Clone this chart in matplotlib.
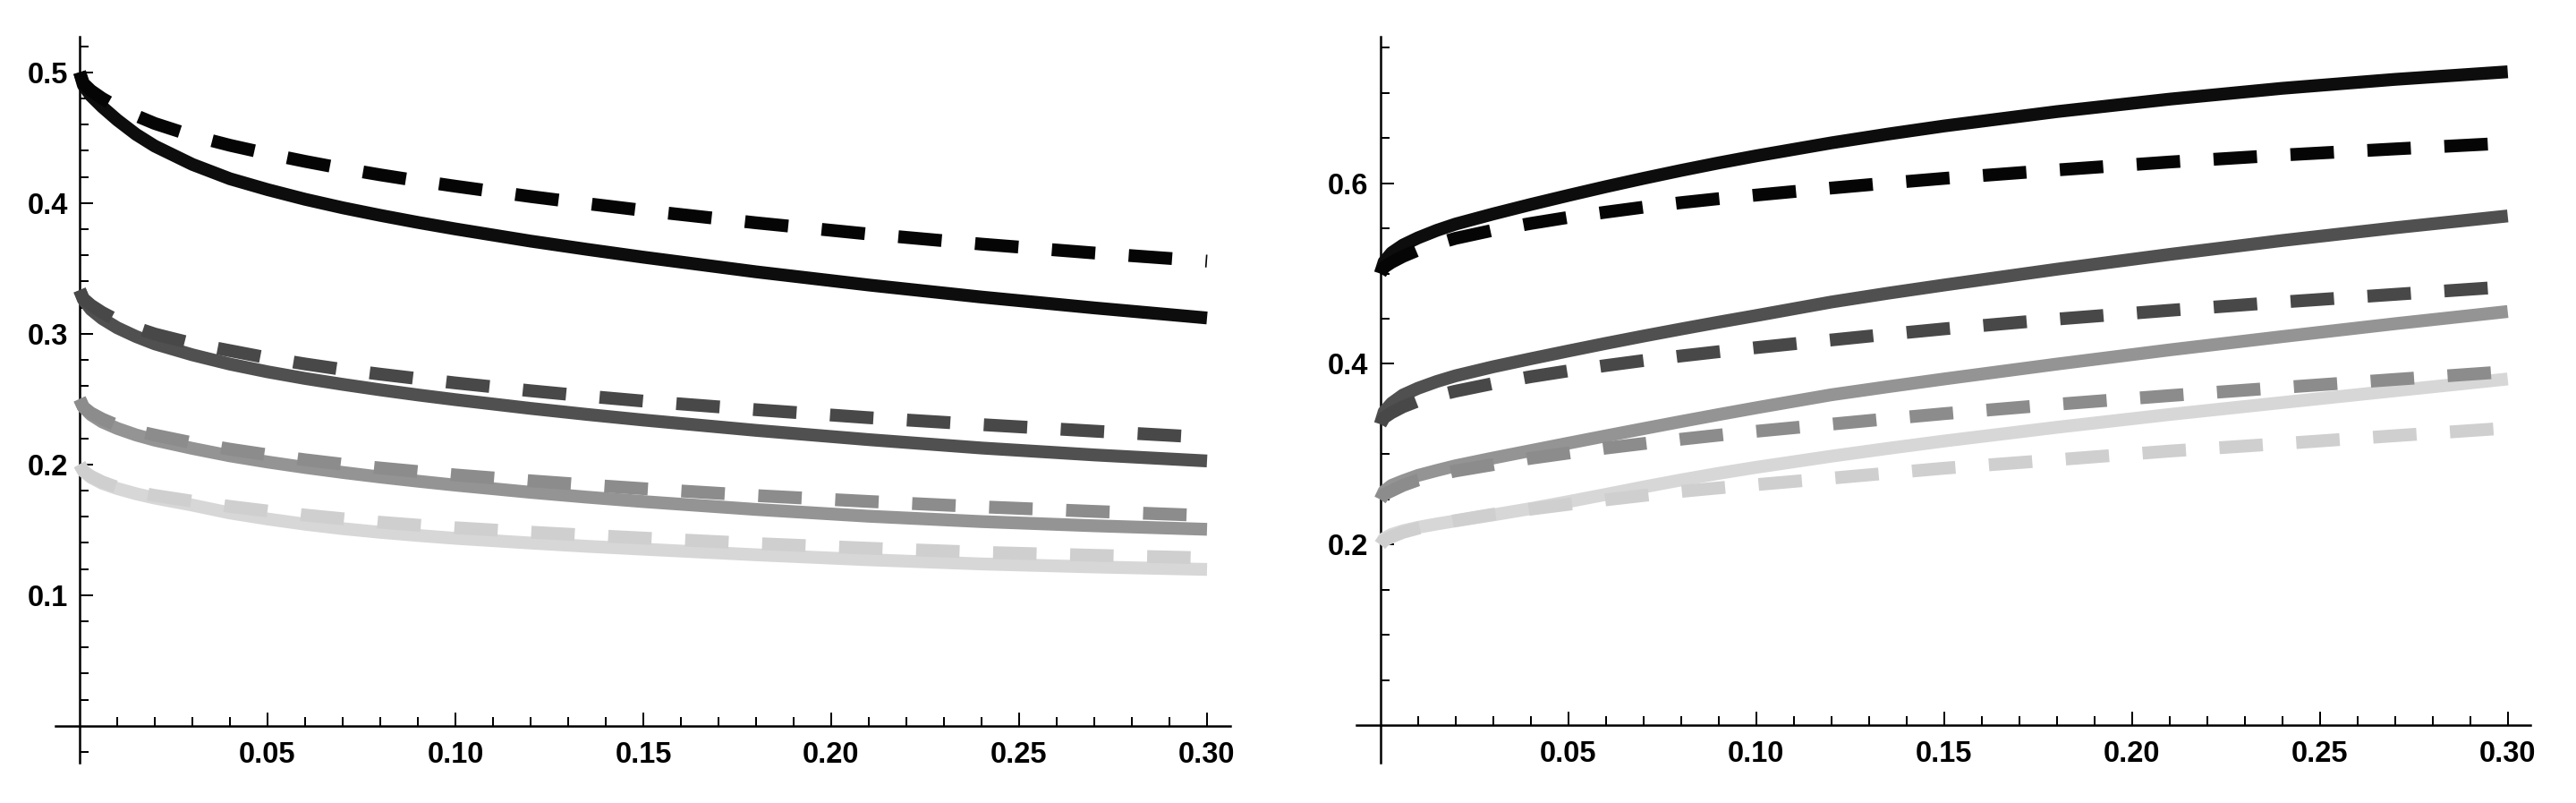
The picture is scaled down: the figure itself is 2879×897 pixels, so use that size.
import matplotlib
matplotlib.use("Agg")
import matplotlib.pyplot as plt
from matplotlib.ticker import FixedLocator, FixedFormatter

# ---------------- data ----------------
x_grid = [0, 0.001, 0.003, 0.006, 0.01, 0.015, 0.02, 0.03, 0.04, 0.05, 0.06, 0.07,
          0.08, 0.09, 0.10, 0.12, 0.135, 0.15, 0.18, 0.21, 0.24, 0.27, 0.30]

# left panel, solid curves
left_solid_1 = [0.500, 0.490, 0.482, 0.4735, 0.4635, 0.4525, 0.4435, 0.4295, 0.4185, 0.4102,
                0.4028, 0.3963, 0.3905, 0.3851, 0.3801, 0.3708, 0.3645, 0.3585, 0.3473,
                0.3372, 0.328, 0.3197, 0.312]
left_solid_2 = [0.3333, 0.326, 0.3185, 0.3115, 0.3045, 0.2978, 0.2922, 0.2838, 0.2767, 0.2708,
                0.2657, 0.2612, 0.257, 0.2531, 0.2495, 0.2428, 0.2382, 0.2339, 0.226,
                0.2189, 0.2125, 0.2072, 0.2026]
left_solid_3 = [0.250, 0.2438, 0.238, 0.2325, 0.2275, 0.2225, 0.2185, 0.2122, 0.2065, 0.2018,
                0.1976, 0.1938, 0.1903, 0.1871, 0.1841, 0.1786, 0.1749, 0.1715, 0.1655,
                0.1603, 0.1562, 0.153, 0.1503]
left_solid_4 = [0.200, 0.1948, 0.190, 0.1855, 0.1815, 0.1775, 0.1742, 0.1688, 0.1628, 0.1582,
                0.1542, 0.1508, 0.1480, 0.1456, 0.1434, 0.1398, 0.1373, 0.1351, 0.1308,
                0.127, 0.1238, 0.1215, 0.1196]
# left panel, dashed curves
left_dash_1 = [0.500, 0.4915, 0.486, 0.480, 0.4735, 0.4668, 0.4608, 0.4515, 0.4441, 0.4377,
               0.4318, 0.4264, 0.4215, 0.417, 0.4128, 0.4049, 0.3995, 0.3943, 0.3848,
               0.3762, 0.3685, 0.3617, 0.3555]
left_dash_2 = [0.3333, 0.3268, 0.3218, 0.3162, 0.3102, 0.3045, 0.2997, 0.2925, 0.287, 0.2815,
               0.2768, 0.2726, 0.269, 0.2656, 0.2623, 0.2563, 0.2522, 0.2484, 0.2418,
               0.2357, 0.2304, 0.2254, 0.2206]
left_dash_3 = [0.250, 0.2438, 0.2393, 0.2347, 0.2298, 0.2256, 0.2224, 0.2165, 0.2116, 0.2073,
               0.2035, 0.2001, 0.1972, 0.1945, 0.1919, 0.1874, 0.1843, 0.1814, 0.1761,
               0.1716, 0.1675, 0.164, 0.1608]
left_dash_4 = [0.200, 0.1949, 0.1909, 0.1866, 0.1824, 0.1789, 0.1762, 0.1718, 0.1678, 0.1643,
               0.1612, 0.1584, 0.1557, 0.1535, 0.1515, 0.1481, 0.1458, 0.1436, 0.1394,
               0.1358, 0.1327, 0.1304, 0.1284]

# right panel, solid curves
right_solid_1 = [0.500, 0.513, 0.523, 0.5315, 0.5395, 0.5478, 0.5548, 0.566, 0.5765, 0.5865,
                 0.5962, 0.6054, 0.6142, 0.6225, 0.6303, 0.6447, 0.6544, 0.6634, 0.6793,
                 0.6931, 0.7051, 0.715, 0.7234]
right_solid_2 = [0.3333, 0.347, 0.3565, 0.3655, 0.373, 0.3805, 0.3868, 0.3968, 0.4057, 0.4143,
                 0.4227, 0.4308, 0.4386, 0.4462, 0.4535, 0.4685, 0.4782, 0.4873, 0.5048,
                 0.5212, 0.5366, 0.5507, 0.5638]
right_solid_3 = [0.250, 0.259, 0.2655, 0.2705, 0.2765, 0.282, 0.2872, 0.2958, 0.304, 0.3122,
                 0.3203, 0.3283, 0.3362, 0.3439, 0.3514, 0.3658, 0.3747, 0.3833, 0.3998,
                 0.4155, 0.4302, 0.4445, 0.458]
right_solid_4 = [0.200, 0.2068, 0.2112, 0.2152, 0.219, 0.2228, 0.2262, 0.2328, 0.2398, 0.2475,
                 0.2555, 0.2637, 0.2715, 0.2788, 0.2855, 0.2978, 0.3064, 0.3146, 0.3298,
                 0.344, 0.3572, 0.3703, 0.3833]
# right panel, dashed curves
right_dash_1 = [0.500, 0.507, 0.5125, 0.519, 0.526, 0.533, 0.539, 0.548, 0.5555, 0.5622,
                0.568, 0.5735, 0.5785, 0.5829, 0.5869, 0.5947, 0.6002, 0.6054, 0.6147,
                0.6235, 0.6312, 0.638, 0.6445]
right_dash_2 = [0.3333, 0.3405, 0.346, 0.3525, 0.359, 0.3648, 0.3698, 0.3783, 0.3858, 0.3923,
                0.3982, 0.4037, 0.4088, 0.4135, 0.418, 0.4265, 0.4328, 0.4388, 0.4496,
                0.4593, 0.4685, 0.477, 0.4855]
right_dash_3 = [0.250, 0.2555, 0.2595, 0.2655, 0.2715, 0.277, 0.2815, 0.2885, 0.2955, 0.3013,
                0.3068, 0.3118, 0.3166, 0.3211, 0.3254, 0.3333, 0.3392, 0.3449, 0.3553,
                0.3649, 0.3739, 0.3828, 0.3915]
right_dash_4 = [0.200, 0.2045, 0.2085, 0.2135, 0.218, 0.2225, 0.2265, 0.2335, 0.2392, 0.2445,
                0.2495, 0.2543, 0.2588, 0.2627, 0.2663, 0.2735, 0.279, 0.2845, 0.2939,
                0.3035, 0.3118, 0.3205, 0.329]

x_major = [0.05, 0.10, 0.15, 0.20, 0.25, 0.30]
x_labels = ["0.05", "0.10", "0.15", "0.20", "0.25", "0.30"]
left_y_major = [0.1, 0.2, 0.3, 0.4, 0.5]
left_y_labels = ["0.1", "0.2", "0.3", "0.4", "0.5"]
right_y_major = [0.2, 0.4, 0.6]
right_y_labels = ["0.2", "0.4", "0.6"]

# ---------------- styling ----------------
plt.rcParams["font.family"] = ["Liberation Sans", "DejaVu Sans"]
plt.rcParams["font.weight"] = "bold"
plt.rcParams["lines.scale_dashes"] = False

solid_colors = ["#0d0d0d", "#505050", "#949494", "#d7d7d7"]
dash_colors = ["#050505", "#484848", "#8c8c8c", "#cfcfcf"]
LW = 10.3
DASH = (35.0, 27.0)

W, H = 2879, 897
fig = plt.figure(figsize=(W / 100, H / 100), dpi=100)
fig.patch.set_facecolor("white")


def make_axes(px_left, px_right, px_top, px_bottom):
    return fig.add_axes([px_left / W, (H - px_bottom) / H,
                         (px_right - px_left) / W, (px_bottom - px_top) / H])


def style_axes(ax, xlim, ylim, ymaj, ylab, ymin):
    ax.set_xlim(*xlim)
    ax.set_ylim(*ylim)
    ax.set_facecolor("white")
    for s in ("top", "right"):
        ax.spines[s].set_visible(False)
    ax.spines["left"].set_position(("data", 0))
    ax.spines["bottom"].set_position(("data", 0))
    for s in ("left", "bottom"):
        ax.spines[s].set_linewidth(1.8)
        ax.spines[s].set_color("black")
    ax.xaxis.set_major_locator(FixedLocator(x_major))
    ax.xaxis.set_major_formatter(FixedFormatter(x_labels))
    ax.xaxis.set_minor_locator(FixedLocator([i / 100 for i in range(1, 31)]))
    ax.yaxis.set_major_locator(FixedLocator(ymaj))
    ax.yaxis.set_major_formatter(FixedFormatter(ylab))
    ax.yaxis.set_minor_locator(FixedLocator(ymin))
    ax.tick_params(which="both", direction="in", width=1.44, color="black")
    ax.tick_params(which="major", length=11.0)
    ax.tick_params(which="minor", length=7.0)
    ax.tick_params(axis="x", which="major", pad=12.5, labelsize=23.5)
    ax.tick_params(axis="y", which="major", pad=9.5, labelsize=23.5)
    for lab in ax.get_xticklabels() + ax.get_yticklabels():
        lab.set_fontweight("bold")


def draw(ax, solids, dashes):
    for ys, c in zip(solids, solid_colors):
        ax.plot(x_grid, ys, color=c, lw=LW, solid_capstyle="butt",
                solid_joinstyle="round", zorder=3, clip_on=False)
    for ys, c in zip(dashes, dash_colors):
        ax.plot(x_grid, ys, color=c, lw=LW, linestyle=(0, DASH),
                dash_capstyle="butt", dash_joinstyle="round", zorder=4, clip_on=False)


# left panel: y axis at px 89, x axis at px 810.7, 4200 px per x unit, 1460 px per y unit
axL = make_axes(62, 1375, 40.7, 851.7)
style_axes(axL, ((62 - 89) / 4200, (1375 - 89) / 4200),
           ((810.7 - 851.7) / 1460, (810.7 - 40.7) / 1460),
           left_y_major, left_y_labels,
           [-0.02] + [i / 50 for i in range(1, 27)])
draw(axL, [left_solid_1, left_solid_2, left_solid_3, left_solid_4],
     [left_dash_1, left_dash_2, left_dash_3, left_dash_4])

# right panel: y axis at px 1542.7, x axis at px 810.1, 4200 px per x unit, 1009 px per y unit
axR = make_axes(1516, 2828, 40.7, 851.7)
style_axes(axR, ((1516 - 1542.7) / 4200, (2828 - 1542.7) / 4200),
           ((810.1 - 851.7) / 1009, (810.1 - 40.7) / 1009),
           right_y_major, right_y_labels,
           [i / 20 for i in range(1, 16)])
draw(axR, [right_solid_1, right_solid_2, right_solid_3, right_solid_4],
     [right_dash_1, right_dash_2, right_dash_3, right_dash_4])

fig.savefig("out.png", dpi=100, facecolor="white")
